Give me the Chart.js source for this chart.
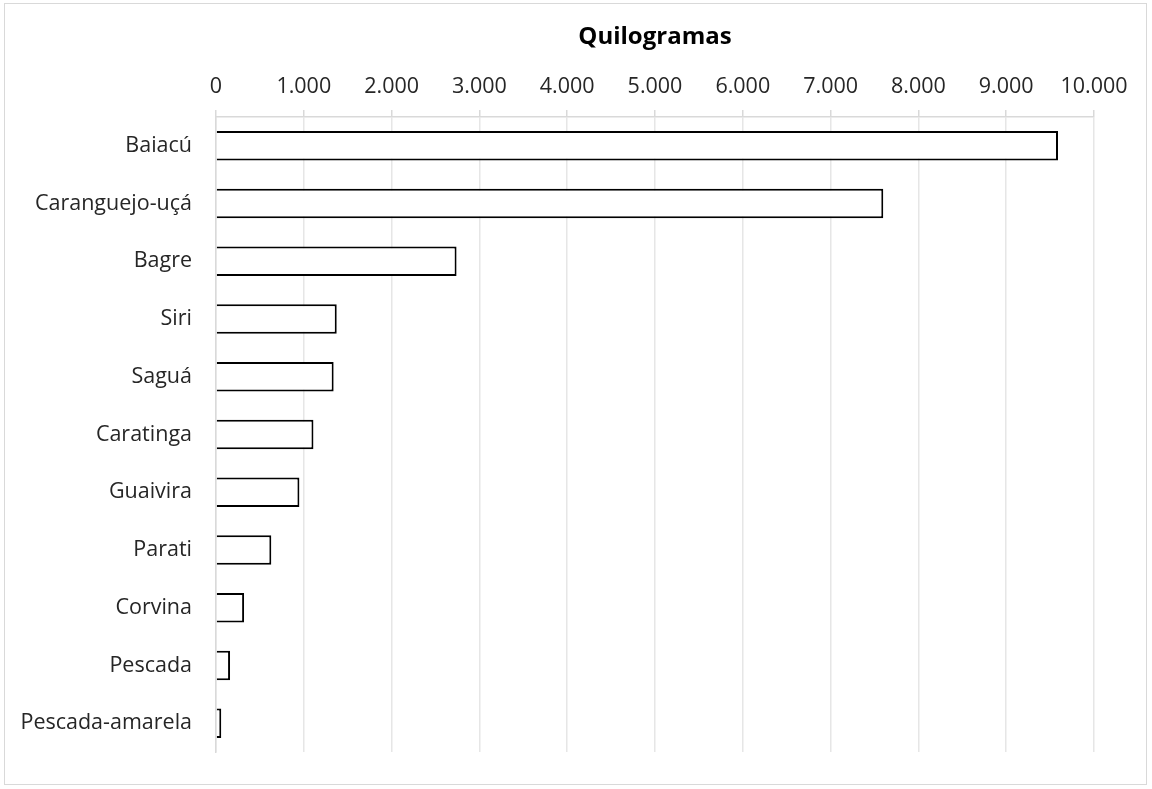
<!DOCTYPE html>
<html>
<head>
<meta charset="utf-8">
<script src="https://cdn.jsdelivr.net/npm/chart.js@4.4.0/dist/chart.umd.min.js"></script>
<style>
  html, body { margin: 0; padding: 0; background: #fff; }
  #wrap { width: 1152px; height: 789px; }
</style>
</head>
<body>
<div id="wrap"><canvas id="kg" width="1152" height="789"></canvas></div>
<script>
var especies = ['Baiacú', 'Caranguejo-uçá', 'Bagre', 'Siri', 'Saguá', 'Caratinga',
                'Guaivira', 'Parati', 'Corvina', 'Pescada', 'Pescada-amarela'];
var quilos = [9590, 7600, 2740, 1375, 1340, 1110, 950, 630, 320, 160, 60];
var tickMax = 10000;
var tickStep = 1000;

var fmt = new Intl.NumberFormat('pt-BR');

// light grey frame round the whole chart
var frame = {
    id: 'frame',
    beforeDraw: function (chart) {
        var c = chart.ctx;
        c.save();
        c.fillStyle = '#fff';
        c.fillRect(0, 0, chart.width, chart.height);
        c.strokeStyle = '#d9d9d9';
        c.lineWidth = 1;
        c.strokeRect(4.5, 3.5, 1142, 781);
        c.restore();
    }
};

var ctx = document.getElementById('kg').getContext('2d');
var chart = new Chart(ctx, {
    type: 'bar',
    data: {
        labels: especies,
        datasets: [{
            data: quilos,
            backgroundColor: '#ffffff',
            borderColor: '#000000',
            borderWidth: 2,
            barPercentage: 0.73,
            categoryPercentage: 0.7
        }]
    },
    options: {
        indexAxis: 'y',
        responsive: false,
        animation: false,
        layout: { padding: { left: 0, right: 58, top: 10, bottom: 22 } },
        plugins: { legend: { display: false }, tooltip: { enabled: false } },
        scales: {
            x: {
                position: 'top',
                min: 0,
                max: tickMax,
                afterFit: function (s) { s.height = 107; },
                ticks: {
                    stepSize: tickStep,
                    padding: 10,
                    color: '#262626',
                    font: { family: 'Open Sans', size: 21.5 },
                    callback: function (v) { return fmt.format(v); }
                },
                grid: { color: '#e6e6e6', lineWidth: 1.5, tickLength: 7, tickColor: '#d9d9d9' },
                border: { color: '#d9d9d9', width: 1.5 },
                title: {
                    display: true,
                    text: 'Quilogramas',
                    color: '#000',
                    font: { family: 'Open Sans', size: 24, weight: 'bold' },
                    padding: { top: 13, bottom: 0 }
                }
            },
            y: {
                afterFit: function (s) { s.width = 216; },
                ticks: {
                    padding: 24,
                    color: '#262626',
                    font: { family: 'Open Sans', size: 21.5 }
                },
                grid: { display: false, drawTicks: false },
                border: { display: true, color: '#d9d9d9', width: 1.5 }
            }
        }
    },
    plugins: [frame]
});
</script>
</body>
</html>
